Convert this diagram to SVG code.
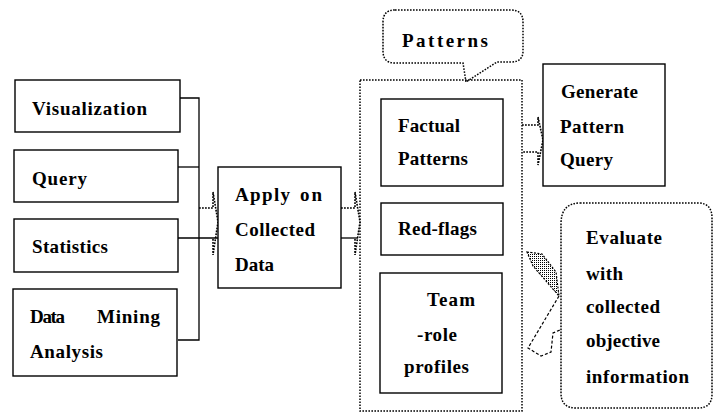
<svg xmlns="http://www.w3.org/2000/svg" width="714" height="415" viewBox="0 0 714 415">
  <defs>
    <pattern id="stipple" width="2" height="2" patternUnits="userSpaceOnUse">
      <rect x="0" y="0" width="1" height="1" fill="#000"/>
    </pattern>
    <style>
      .box { fill: #fff; stroke: #000; stroke-width: 1.4; }
      .dotted { fill: none; stroke: #000; stroke-width: 1.5; stroke-dasharray: 1.6 1.4; }
      .wire { fill: none; stroke: #000; stroke-width: 1.3; }
      .wavy { fill: none; stroke: #000; stroke-width: 1.6; stroke-dasharray: 1.8 1.2; }
      text { font-family: "Liberation Serif", "Times New Roman", Times, serif; font-weight: bold; font-size: 19px; fill: #000; }
    </style>
  </defs>
  <rect width="714" height="415" fill="#fff"/>

  <!-- connectors -->
  <g id="connectors">
    <!-- tool boxes to shared bus -->
    <path class="wire" d="M179,98 H199 V340 H178"/>
    <path class="wire" d="M178,167 H199"/>
    <path class="wire" d="M178,238 H218"/>
    <!-- bus to Apply on Collected Data -->
    <path class="wavy" d="M199,208 H213 V192 L218,222 L213,255 V238"/>
    <!-- Apply on Collected Data to pattern container -->
    <path class="wire" d="M341,238 H358"/>
    <path class="wavy" d="M341,208 H355 V192 L360,222 L355,255 V238"/>
    <!-- pattern container to Generate Pattern Query -->
    <path class="wavy" d="M522,125 H538 V117 L543,140 L538,165 V152 H522"/>
  </g>

  <!-- left column: analysis techniques -->
  <g id="visualization">
    <rect class="box" x="15" y="80" width="165" height="52"/>
    <text x="32" y="115" textLength="115">Visualization</text>
  </g>
  <g id="query">
    <rect class="box" x="14" y="150" width="164" height="52"/>
    <text x="32" y="185" textLength="55">Query</text>
  </g>
  <g id="statistics">
    <rect class="box" x="14" y="219" width="164" height="53"/>
    <text x="32" y="253" textLength="76">Statistics</text>
  </g>
  <g id="data-mining">
    <rect class="box" x="13" y="289" width="164" height="87"/>
    <text x="30" y="323" textLength="35">Data</text>
    <text x="97" y="323" textLength="63">Mining</text>
    <text x="30" y="358" textLength="73">Analysis</text>
  </g>

  <!-- central step -->
  <g id="apply">
    <rect class="box" x="218" y="167" width="123" height="121"/>
    <text x="235" y="201" textLength="55">Apply</text>
    <text x="300" y="201" textLength="22">on</text>
    <text x="235" y="236" textLength="80">Collected</text>
    <text x="235" y="271" textLength="39">Data</text>
  </g>

  <!-- pattern container with its callout -->
  <g id="patterns">
    <rect class="dotted" x="360" y="80" width="162" height="331"/>
    <path class="dotted" d="M395,10 H511 Q523,10 523,22 V51 Q523,62 511,62 H497 L466,82 L463,63 H395 Q383,63 383,51 V22 Q383,10 395,10 Z" fill="#fff"/>
    <text x="402" y="47" textLength="86">Patterns</text>
  </g>
  <g id="factual-patterns">
    <rect class="box" x="381" y="99" width="122" height="87"/>
    <text x="398" y="132" textLength="62">Factual</text>
    <text x="398" y="165" textLength="70">Patterns</text>
  </g>
  <g id="red-flags">
    <rect class="box" x="381" y="203" width="122" height="52"/>
    <text x="398" y="235" textLength="79">Red-flags</text>
  </g>
  <g id="team-role-profiles">
    <rect class="box" x="380" y="273" width="122" height="120"/>
    <text x="427" y="306" textLength="48">Team</text>
    <text x="417" y="341" textLength="40">-role</text>
    <text x="404" y="373" textLength="65">profiles</text>
  </g>

  <!-- right column -->
  <g id="generate-query">
    <rect class="box" x="543" y="64" width="122" height="122"/>
    <text x="561" y="98" textLength="77">Generate</text>
    <text x="560" y="133" textLength="64">Pattern</text>
    <text x="560" y="166" textLength="53">Query</text>
  </g>
  <g id="evaluate">
    <path d="M527,252 L542,254 L556,272 L559,296 L533,266 Z" fill="url(#stipple)" stroke="#000" stroke-width="1.2" stroke-dasharray="2 1.5"/>
    <path d="M559,296 L528,348 L541,356 L551,352 L553,333 L560,330" fill="none" stroke="#000" stroke-width="1.2" stroke-dasharray="3 2"/>
    <path class="dotted" d="M580,203 H698 Q712,203 712,218 V394 Q712,408 698,408 H576 Q561,408 561,393 V224 Q561,203 580,203 Z"/>
    <text x="586" y="244" textLength="76">Evaluate</text>
    <text x="586" y="280" textLength="37">with</text>
    <text x="586" y="313" textLength="74">collected</text>
    <text x="586" y="347" textLength="74">objective</text>
    <text x="586" y="383" textLength="103">information</text>
  </g>
</svg>
